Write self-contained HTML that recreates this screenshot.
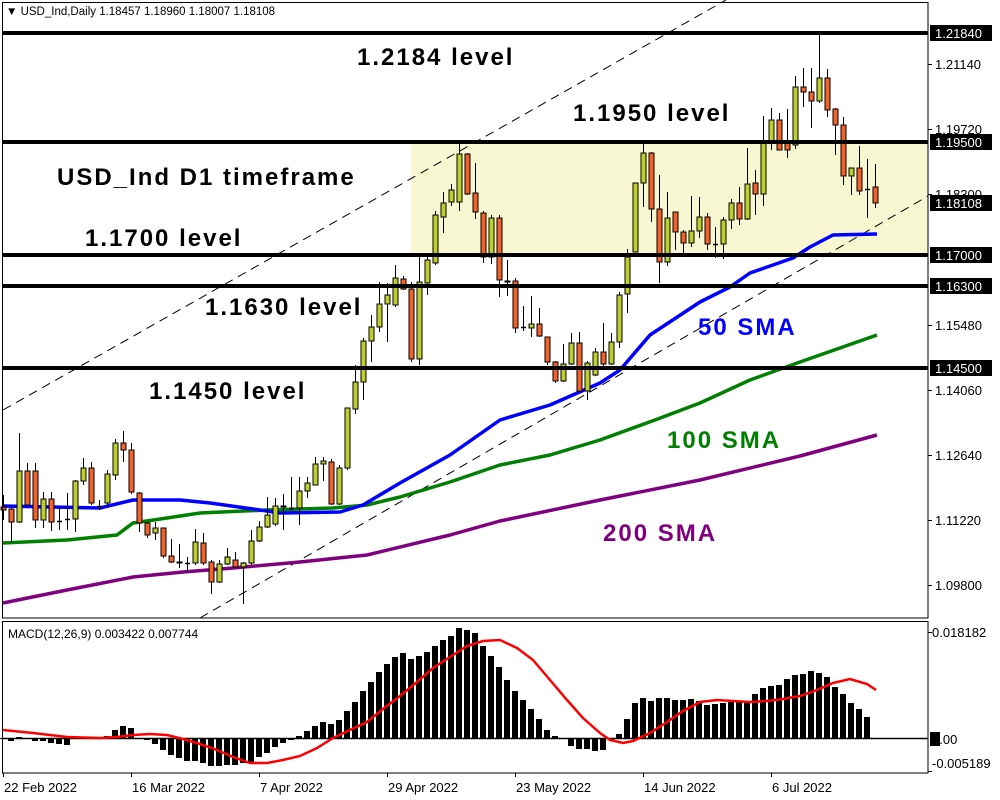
<!DOCTYPE html>
<html><head><meta charset="utf-8"><style>
html,body{margin:0;padding:0;background:#fff;}
svg{display:block;font-family:"Liberation Sans",sans-serif;}
.lv{font-weight:bold;font-size:24px;letter-spacing:2px;}
.ax{font-size:13px;}
</style></head><body>
<svg id="s" width="1000" height="800" viewBox="0 0 1000 800" xmlns="http://www.w3.org/2000/svg">
<rect x="0" y="0" width="1000" height="800" fill="#fff"/>
<rect x="411" y="143" width="517" height="110" fill="#f7f7d2"/>
<g id="dash" stroke="#000" stroke-width="1" stroke-dasharray="9,6" fill="none">
<line x1="3" y1="410" x2="726" y2="0"/>
<line x1="200" y1="618" x2="928" y2="196"/>
</g>
<g id="ma" fill="none" stroke-width="3.5" stroke-linejoin="round">
<polyline stroke="#800080" points="3,603 67,590 133,577 183,572 233,568 300,562 367,555 450,535 500,521 600,500 700,480 800,456 877,435"/>
<polyline stroke="#008000" points="3,543 67,540 117,535 133,523 167,518 200,513 267,510 333,508 367,505 400,497 450,482 500,465 550,455 600,440 655,420 700,403 750,380 800,362 877,335"/>
<polyline stroke="#0000ff" points="3,506 100,508 133,500 180,500 210,503 260,510 280,513 340,512 363,505 400,483 450,455 500,420 550,405 600,383 620,370 650,335 700,302 730,287 750,273 793,258 810,247 833,235 877,234"/>
</g>
<g id="cd"></g>
<g stroke="#000" stroke-width="4">
<line x1="2" y1="33" x2="928" y2="33"/>
<line x1="2" y1="142" x2="928" y2="142"/>
<line x1="2" y1="255" x2="928" y2="255"/>
<line x1="2" y1="286" x2="928" y2="286"/>
<line x1="2" y1="368" x2="928" y2="368"/>
</g>
<g class="lv">
<text x="357" y="65">1.2184 level</text>
<text x="573" y="121">1.1950 level</text>
<text x="57" y="185">USD_Ind D1 timeframe</text>
<text x="85" y="246">1.1700 level</text>
<text x="205" y="315">1.1630 level</text>
<text x="149" y="399">1.1450 level</text>
<text x="698" y="335" fill="#0000ff">50 SMA</text>
<text x="667" y="448" fill="#008000">100 SMA</text>
<text x="603" y="541" fill="#800080">200 SMA</text>
</g>
<g fill="none" stroke="#000" stroke-width="1">
<rect x="2.5" y="2.5" width="925.5" height="615.5"/>
<rect x="2.5" y="621.5" width="925.5" height="151.5"/>
</g>
<text x="6" y="15" font-size="11.5">▼ USD_Ind,Daily  1.18457 1.18960 1.18007 1.18108</text>
<g id="axis"></g>
<g id="macd"></g>
<text x="8" y="638" font-size="12">MACD(12,26,9) 0.003422 0.007744</text>
<polyline fill="none" stroke="#ff0000" stroke-width="2.5" points="3,730 33,733 67,737 100,738 117,737 133,735 150,734 167,735 183,739 200,744 217,750 233,757 250,763 267,763 283,760 300,756 317,748 333,738 350,730 367,722 383,709 400,696 417,682 433,668 450,657 467,646 483,641 500,640 517,648 533,660 550,680 567,700 583,718 600,733 610,740 623,743 633,741 650,733 667,722 683,711 700,702 717,700 733,701 750,702 767,701 783,699 800,696 817,690 833,683 850,679 867,684 876,690"/>
</svg>
<script>
var NS="http://www.w3.org/2000/svg";
function el(p,t,a,txt){var e=document.createElementNS(NS,t);for(var k in a)e.setAttribute(k,a[k]);if(txt!=null)e.textContent=txt;p.appendChild(e);return e;}
var C=[
[3.3,'r',507,510,495,520],[11,'r',509,522,507,543],[19.3,'g',471,522,433,523],[27.3,'r',471,505,463,505],[35.3,'r',471,520,463,528],
[43.3,'g',499,520,492,528],[51.3,'r',499,522,492,531],[59.3,'d',521,521,507,530],[67.3,'d',519,519,493,530],[75.3,'g',481,519,480,532],
[83.3,'g',468,481,458,485],[91.3,'r',468,503,462,505],[99.3,'d',506,506,500,510],[107.3,'g',474,503,470,508],[115.3,'g',443,475,439,480],[123.3,'r',443,450,431,462],
[131.3,'r',450,492,443,494],[139.3,'r',493,523,492,532],[147.3,'r',523,535,522,538],[155.3,'g',528,533,522,540],[163.3,'r',528,556,528,558],
[171.3,'r',556,562,539,563],[179.3,'r',562,563,544,568],[187.3,'d',563,563,557,573],[195.3,'g',542,563,529,565],[203.3,'r',543,563,533,565],
[211.3,'r',562,582,560,594],[219.3,'g',564,582,560,583],[227.3,'g',557,564,548,565],[235.3,'r',560,567,552,568],[243.3,'g',563,567,562,604],
[251.3,'g',541,563,530,565],[259.3,'g',527,541,521,542],[267.3,'g',515,527,497,528],[275.3,'g',506,524,498,526],[283.3,'r',506,507,494,530],
[291.3,'d',508,508,477,510],[299.3,'g',491,508,477,525],[307.3,'g',483,491,477,498],[315.3,'g',464,485,457,485],[323.3,'g',461,464,457,481],
[331.3,'r',462,504,459,505],[339.3,'g',468,504,465,505],[347.3,'g',408,468,408,470],[355.3,'g',382,409,365,414],[363.3,'g',341,382,338,400],
[371.3,'g',327,341,315,362],[379.3,'g',304,327,282,332],[387.3,'g',295,304,283,342],[395.3,'g',278,305,265,307],[403.3,'r',279,289,276,290],
[411.3,'r',289,359,282,362],[419.3,'g',282,359,257,365],[427.3,'g',260,283,255,295],[435.3,'g',215,263,211,265],[443.3,'g',203,217,192,233],
[451.3,'g',190,202,184,206],
[459.3,'g',154,202,142,211],[467.3,'r',154,194,153,195],[475.3,'r',193,212,163,219],[483.3,'r',213,257,211,263],[491.3,'g',218,257,215,264],
[499.3,'r',218,280,215,297],[507.3,'r',281,282,260,296],[515.3,'r',281,328,278,333],[523.3,'d',327,327,306,331],[531.3,'g',324,328,296,337],
[539.3,'r',324,336,308,337],[547.3,'r',337,362,337,365],[555.3,'r',362,381,361,383],[563.3,'g',364,381,344,382],[571.3,'g',343,364,333,365],
[579.3,'r',343,391,332,392],[587.3,'g',363,391,361,400],[595.3,'g',352,375,348,376],[603.3,'r',352,364,323,367],[611.3,'g',342,364,333,365],
[619.3,'g',295,342,292,348],[627.3,'g',257,294,249,313],[635.3,'g',183,252,183,252],[643.3,'g',153,183,143,207],[651.3,'r',153,209,152,222],
[659.3,'r',209,262,175,283],[667.3,'g',218,262,192,266],[675.3,'r',212,232,212,250],[683.3,'r',232,243,230,257],[691.3,'g',231,243,196,247],
[699.3,'g',217,231,197,238],[707.3,'r',217,244,213,250],[715.3,'d',244,246,227,258],[723.3,'g',220,244,217,259],[731.3,'g',203,220,199,229],
[739.3,'r',203,219,187,225],[747.3,'g',184,219,148,220],[755.3,'r',183,194,170,215],[763.3,'g',143,194,116,206],[771.3,'g',120,143,108,150],
[779.3,'r',120,150,113,150],[787.3,'r',143,150,109,158],[795.3,'g',87,145,76,149],[803.3,'r',87,92,68,107],[811.3,'r',92,101,68,128],
[819.3,'g',78,101,35,103],[827.3,'r',78,110,69,117],[835.3,'r',109,125,108,155],[843.3,'r',125,176,117,185],[851.3,'g',168,176,168,195],
[859.3,'r',168,191,146,195],[867.3,'d',189,189,159,218],[875.3,'r',187,203,164,208]];
var g=document.getElementById('cd');
C.forEach(function(c){var x=Math.round(c[0]);
 el(g,'line',{x1:x+0.5,x2:x+0.5,y1:c[4],y2:c[5],stroke:'#000','stroke-width':1});
 if(c[1]=='d'){el(g,'line',{x1:x-2,x2:x+3,y1:c[2]+0.5,y2:c[2]+0.5,stroke:'#000','stroke-width':1.5});}
 else{var h=Math.max(1,c[3]-c[2]);el(g,'rect',{x:x-2,y:c[2],width:5,height:h,fill:c[1]=='g'?'#bccf2c':'#f4612a',stroke:'#000','stroke-width':1});}
});
var H=[-1,-3,1,0,-3,-3,-5,-6,-7,0,0,0,0,2,8,12,10,0,-2,-6,-12,-17,-20,-23,-23,-25,-28,-28,-27,-27,-25,-24,-19,-15,-9,-5,-2,2,7,12,16,14,18,27,36,47,56,66,74,81,85,79,82,86,92,98,102,110,108,105,92,82,
71,58,47,38,29,19,8,2,0,-8,-11,-11,-13,-12,-2,4,19,35,40,37,40,40,38,38,39,37,33,34,35,36,36,37,44,50,52,53,59,63,64,67,65,61,51,44,35,29,21];
var m=document.getElementById('macd');
el(m,'line',{x1:3,x2:928,y1:738.5,y2:738.5,stroke:'#000','stroke-width':1.5});
H.forEach(function(v,i){var x=Math.round(3.3+8*i)-3;
 if(v>=0)el(m,'rect',{x:x,y:738-v,width:6,height:Math.max(v,1),fill:'#000'});
 else el(m,'rect',{x:x,y:738,width:6,height:-v,fill:'#000'});
});
var a=document.getElementById('axis');
[[64,'1.21140'],[129,'1.19720'],[194,'1.18300'],[325,'1.15480'],[390,'1.14060'],[455,'1.12640'],[520,'1.11220'],[585,'1.09800']].forEach(function(t){
 el(a,'line',{x1:928,x2:932,y1:t[0]+0.5,y2:t[0]+0.5,stroke:'#000'});
 el(a,'text',{x:935,y:t[0]+5,'class':'ax',fill:'#000'},t[1]);});
[[33,'1.21840'],[142,'1.19500'],[203,'1.18108'],[255,'1.17000'],[286,'1.16300'],[368,'1.14500']].forEach(function(t){
 el(a,'rect',{x:930,y:t[0]-8,width:62,height:16,fill:'#000'});
 el(a,'text',{x:935,y:t[0]+5,'class':'ax',fill:'#fff'},t[1]);});
el(a,'text',{x:932,y:637,'class':'ax',fill:'#000'},'0.018182');
el(a,'rect',{x:930,y:732,width:10,height:14,fill:'#000'});
el(a,'text',{x:932,y:744,'class':'ax',fill:'#000'},'0.00');
el(a,'text',{x:932,y:768,'class':'ax',fill:'#000'},'-0.005189');
el(a,'line',{x1:928,x2:932,y1:632.5,y2:632.5,stroke:'#000'});
el(a,'line',{x1:928,x2:932,y1:771.5,y2:771.5,stroke:'#000'});
[[3,'22 Feb 2022'],[131,'16 Mar 2022'],[259,'7 Apr 2022'],[387,'29 Apr 2022'],[515,'23 May 2022'],[643,'14 Jun 2022'],[771,'6 Jul 2022']].forEach(function(t){
 el(a,'line',{x1:t[0]+0.5,x2:t[0]+0.5,y1:773,y2:777,stroke:'#000'});
 el(a,'text',{x:t[0]+1,y:792,'class':'ax',fill:'#000'},t[1]);});
</script>
</body></html>
